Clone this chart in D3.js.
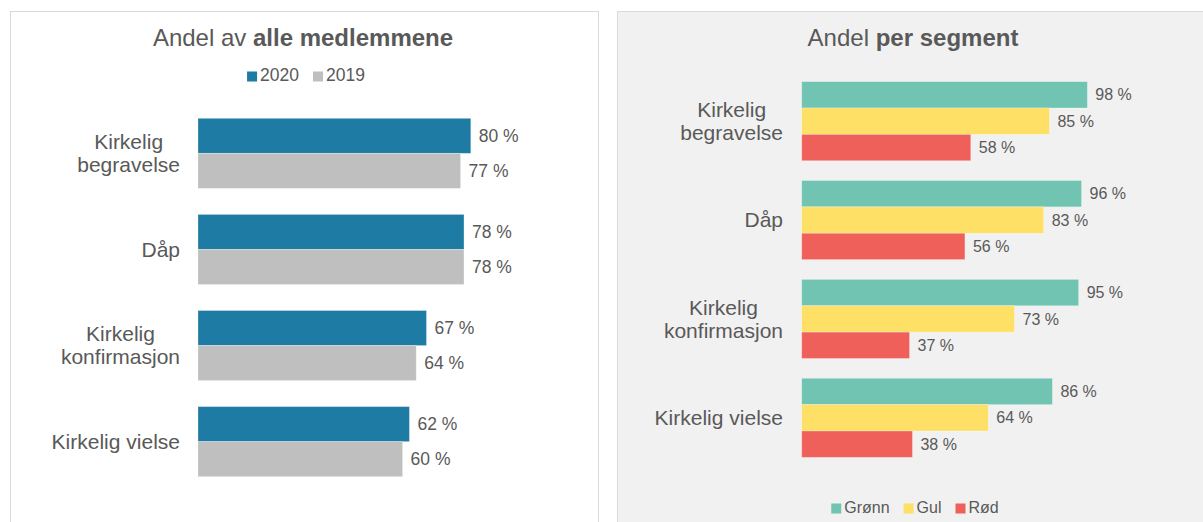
<!DOCTYPE html>
<html>
  <head>
    <meta charset="utf-8">
    <style>
      body { margin: 0; background: #fff; }
      text { font-family: "Liberation Sans", Arial, sans-serif; fill: #595959; }
    </style>
    <script src="https://cdnjs.cloudflare.com/ajax/libs/d3/7.8.5/d3.min.js"></script>
  </head>
  <body>
    <svg width="1203" height="522" id="SVG"></svg>
    <script>
      // categories (line breaks as in the original labels)
      var categories = ["Kirkelig\nbegravelse", "Dåp", "Kirkelig\nkonfirmasjon", "Kirkelig vielse"];

      // left panel: all members
      var years = ["2020", "2019"];
      var values2020 = [80, 78, 67, 62];
      var values2019 = [77, 78, 64, 60];

      // right panel: per segment
      var segments = ["Grønn", "Gul", "Rød"];
      var valuesGronn = [98, 96, 95, 86];
      var valuesGul = [85, 83, 73, 64];
      var valuesRod = [58, 56, 37, 38];

      var leftColors = { "2020": "#1e7ca4", "2019": "#bfbfbf" };
      var rightColors = { "Grønn": "#71c3b2", "Gul": "#fde065", "Rød": "#f0605a" };

      var svg = d3.select("#SVG");

      // panel frames
      svg.append("rect").attr("x", 10.5).attr("y", 11.5).attr("width", 588).attr("height", 530)
         .attr("fill", "#fff").attr("stroke", "#d9d9d9");
      svg.append("rect").attr("x", 617.5).attr("y", 11.5).attr("width", 600).attr("height", 530)
         .attr("fill", "#f1f1f1").attr("stroke", "#d9d9d9");

      function drawPanel(cfg) {
        var g = svg.append("g");

        var y0 = d3.scaleBand().domain(categories).range(cfg.yRange)
                   .paddingInner(cfg.pad).paddingOuter(cfg.pad / 2);
        var y1 = d3.scaleBand().domain(cfg.series).range([0, y0.bandwidth()]);
        var x = d3.scaleLinear().domain([0, 100]).range(cfg.xRange);

        var rows = [];
        categories.forEach(function(c, i) {
          cfg.series.forEach(function(s, j) {
            rows.push({ cat: c, s: s, v: cfg.values[j][i] });
          });
        });

        g.selectAll(".bar")
         .data(rows)
         .enter()
         .append("rect")
         .attr("class", "bar")
         .attr("x", x(0))
         .attr("y", function(d) { return y0(d.cat) + y1(d.s) })
         .attr("width", function(d) { return x(d.v) - x(0) })
         .attr("height", y1.bandwidth())
         .attr("fill", function(d) { return cfg.colors[d.s] })
         .attr("stroke", "#fff")
         .attr("stroke-opacity", 0.35)
         .attr("stroke-width", 0.8);

        g.selectAll(".val")
         .data(rows)
         .enter()
         .append("text")
         .attr("class", "val")
         .attr("x", function(d) { return x(d.v) + 8 })
         .attr("y", function(d) { return y0(d.cat) + y1(d.s) + y1.bandwidth() / 2 })
         .attr("dy", "0.35em")
         .style("font-size", cfg.valSize + "px")
         .text(function(d) { return d.v + " %" });

        // category labels: block right-aligned, lines centered inside
        categories.forEach(function(c) {
          var lines = c.split("\n");
          var t = g.append("text")
                   .style("font-size", "21px")
                   .attr("text-anchor", "middle");
          var lh = 23;
          var cy = y0(c) + y0.bandwidth() / 2;
          lines.forEach(function(l, i) {
            t.append("tspan")
             .attr("y", cy + (i - (lines.length - 1) / 2) * lh)
             .attr("dy", "0.35em")
             .text(l);
          });
          var w = d3.max(t.selectAll("tspan").nodes(), function(n) { return n.getComputedTextLength() });
          t.selectAll("tspan").attr("x", cfg.labelRight - w / 2);
        });

        // title
        var title = g.append("text")
                     .attr("x", cfg.titleX).attr("y", 46)
                     .attr("text-anchor", "middle")
                     .style("font-size", "24px");
        title.append("tspan").text(cfg.title[0]);
        title.append("tspan").style("font-weight", "bold").text(cfg.title[1]);

        // legend
        var lg = g.append("g");
        var cursor = 0;
        cfg.series.forEach(function(s) {
          lg.append("rect").attr("x", cursor).attr("y", -9.5).attr("width", 10).attr("height", 10)
            .attr("fill", cfg.colors[s]);
          var t = lg.append("text").attr("x", cursor + 13).attr("y", 0)
                    .style("font-size", cfg.legSize + "px").text(s);
          cursor += 13 + t.node().getComputedTextLength() + 14;
        });
        cursor -= 14;
        lg.attr("transform", "translate(" + (cfg.legendX - cursor / 2) + "," + cfg.legendY + ")");
      }

      drawPanel({
        series: years,
        values: [values2020, values2019],
        colors: leftColors,
        yRange: [105.3, 489.7],
        pad: 0.271,
        xRange: [198, 539],
        labelRight: 180,
        valSize: 17.5,
        legSize: 17.5,
        title: ["Andel av ", "alle medlemmene"],
        titleX: 303,
        legendX: 306,
        legendY: 81
      });

      drawPanel({
        series: segments,
        values: [valuesGronn, valuesGul, valuesRod],
        colors: rightColors,
        yRange: [71.75, 467.25],
        pad: 0.2,
        xRange: [801.7, 1093.2],
        labelRight: 783,
        valSize: 16,
        legSize: 16,
        title: ["Andel ", "per segment"],
        titleX: 913,
        legendX: 915,
        legendY: 513
      });
    </script>
  </body>
</html>
